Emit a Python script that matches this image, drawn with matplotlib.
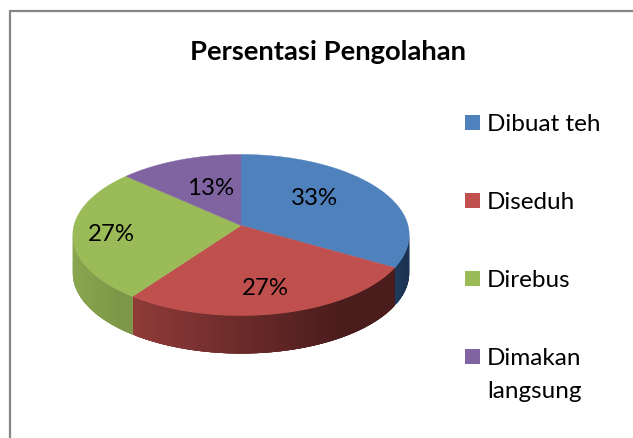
import numpy as np
import matplotlib
matplotlib.use("Agg")
import matplotlib.pyplot as plt
from matplotlib.patches import Polygon, Rectangle

plt.rcParams['font.family'] = ['Lato', 'DejaVu Sans']

title = "Persentasi Pengolahan"
categories = ["Dibuat teh", "Diseduh", "Direbus", "Dimakan\nlangsung"]
values = [33.33, 26.67, 26.67, 13.33]
labels = ["33%", "27%", "27%", "13%"]
colors = ["#4f81bd", "#c0504d", "#9bbb59", "#8064a2"]

# side wall colours, (left end, right end) of the visible part
side_red = ("#8f3b39", "#4a1c1c")
side_green = ("#8ba650", "#7c9747")
side_blue = ("#1f3a5c", "#1b3350")

W, H = 633, 439
cx, cy = 241, 226.5
a, b, k = 167, 79.4, 0.118
depth = 38


def project(theta):
    # theta clockwise from the top of the pie, radians
    u, v = np.sin(theta), np.cos(theta)
    d = 1 + k * v
    return cx + a * u / d, cy - b * v / d


def mix(c1, c2, t):
    c1 = np.array(matplotlib.colors.to_rgb(c1))
    c2 = np.array(matplotlib.colors.to_rgb(c2))
    return tuple(c1 + (c2 - c1) * t)


fig = plt.figure(figsize=(W / 100, H / 100), dpi=100)
ax = fig.add_axes([0, 0, 1, 1])
ax.set_xlim(0, W)
ax.set_ylim(H, 0)
ax.axis("off")

# chart frame
ax.plot([10, 10, W + 5], [H + 5, 12, 12], color="#868686", lw=1.6, solid_joinstyle="miter")

total = sum(values)
edges = np.concatenate([[0], np.cumsum(values)]) / total * 2 * np.pi
sides = [side_blue, side_red, side_green, None]

# side walls, only the front part shows
for i in range(len(values)):
    if sides[i] is None:
        continue
    th = np.linspace(edges[i], edges[i + 1], 160)
    x, y = project(th)
    front = np.where(np.diff(x) < 0)[0]
    xmin, xmax = x[front].min(), x[front].max()
    # strips overlap the next ones so no seams show between them
    for j in front[::-1]:
        j0 = max(j - 3, front.min())
        t = (0.5 * (x[j] + x[j + 1]) - xmin) / max(xmax - xmin, 1)
        c = mix(sides[i][0], sides[i][1], min(t * 1.25, 1))
        sx, sy = x[j0:j + 2], y[j0:j + 2]
        pts = np.column_stack([np.r_[sx, sx[::-1]], np.r_[sy, sy[::-1] + depth]])
        ax.add_patch(Polygon(pts, closed=True, fc=c, ec="none", lw=0))

# top surface
for i in range(len(values)):
    th = np.linspace(edges[i], edges[i + 1], 150)
    x, y = project(th)
    pts = np.column_stack([np.r_[cx, x], np.r_[cy, y]])
    ax.add_patch(Polygon(pts, closed=True, fc=colors[i], ec=colors[i], lw=0.3))

# data labels
label_x = [315, 265, 111, 211]
label_y = [199, 289, 235, 189]
for s, lx, ly in zip(labels, label_x, label_y):
    ax.text(lx, ly, s, fontsize=17.3, color="black", ha="center", va="center")

ax.text(328, 52.5, title, fontsize=19.7, fontweight="bold", color="black", ha="center", va="center")

# legend
legend_y = [123.5, 201.5, 279.5, 357.5]
for name, c, ly in zip(categories, colors, legend_y):
    ax.add_patch(Rectangle((465, ly - 7.5), 15, 15, fc=c, ec="none"))
    lines = name.split("\n")
    ax.text(487, ly + 1, lines[0], fontsize=17.5, color="black", ha="left", va="center")
    if len(lines) > 1:
        ax.text(487, ly + 34, lines[1], fontsize=17.5, color="black", ha="left", va="center")

fig.savefig("out.png", dpi=100)
